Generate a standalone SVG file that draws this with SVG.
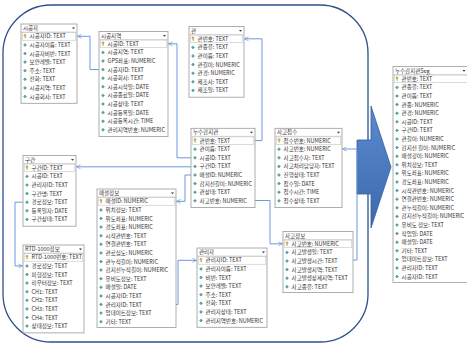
<svg xmlns="http://www.w3.org/2000/svg" xmlns:xlink="http://www.w3.org/1999/xlink" width="467" height="344" viewBox="0 0 467 344">
<style>
text{font-family:"Noto Sans CJK KR","Noto Sans",sans-serif;font-size:5.5px;fill:#333}
.box{fill:#fff;stroke:#9a9a9a;stroke-width:0.8}
.hl{stroke:#c4c4c4;stroke-width:0.6}
.kr{fill:none;stroke:#b8b8b8;stroke-width:0.5}
.dd{fill:#333}
.cn{fill:none;stroke:#6a98dc;stroke-width:1}
</style>
<defs>
<path id="fi" d="M0,-1.5 L1.5,0 L0,1.5 L-1.5,0Z" fill="#46aaa6" stroke="#2c7f7c" stroke-width="0.4"/>
<g id="ky"><circle cx="0" cy="-1" r="1.1" fill="#e0c050" stroke="#9a7d20" stroke-width="0.4"/><path d="M0,0.1 V2 M0,1.3 H0.8" stroke="#9a7d20" stroke-width="0.6"/></g>
<marker id="ah" viewBox="0 0 8 8" refX="7" refY="4" markerWidth="5" markerHeight="5" orient="auto" markerUnits="userSpaceOnUse"><path d="M0.5,0.8 L7,4 L0.5,7.2" fill="none" stroke="#6a98dc" stroke-width="1.1"/></marker>
<linearGradient id="ag" x1="0" y1="0" x2="0" y2="1"><stop offset="0" stop-color="#5b8ad0"/><stop offset="1" stop-color="#3d69ad"/></linearGradient>
</defs>
<rect x="3" y="5" width="365" height="337" rx="48" fill="none" stroke="#2f4f8f" stroke-width="1.3"/>
<path id="bigArrow" d="M357,140 H371 V106 L391,167 L371,228 V194 H357 Z" fill="url(#ag)" stroke="#34609f" stroke-width="0.8"/>
<g id="connectors">
<path class="cn" d="M99,69.6 H90 V36.3 H77.5" marker-end="url(#ah)"/>
<path class="cn" d="M191,157.8 H177 V43.8 H168.5" marker-end="url(#ah)"/>
<path class="cn" d="M255,140.6 H262 V38.8 H244.5" marker-end="url(#ah)"/>
<path class="cn" d="M191,166.8 H76.5" marker-end="url(#ah)"/>
<path class="cn" d="M191,175 H185 V201.3 H176.5" marker-end="url(#ah)"/>
<path class="cn" d="M255,200.5 H270 V243.8 H282.5" marker-end="url(#ah)"/>
<path class="cn" d="M352,260 H357 V149 H342.5" marker-end="url(#ah)"/>
<path class="cn" d="M23,202.2 H15 V265.9 H22.5" marker-end="url(#ah)"/>
<path class="cn" d="M176,304.5 H178 V260.3 H196.5" marker-end="url(#ah)"/>
</g>
<g id="t_sigongja" transform="translate(21,24)">
<rect class="box" width="56" height="79.3"/><line class="hl" x1="0" y1="8" x2="56" y2="8"/><text x="2" y="6">시공자</text><path class="dd" d="M51,3.5 H54 L52.5,5.2Z"/>
<rect class="kr" x="1.2" y="8.6" width="53.6" height="7.6"/>
<use href="#ky" x="4" y="12.3"/><text x="8.6" y="14.3">시공자ID: TEXT</text>
<use href="#fi" x="4" y="20.9"/><text x="8.6" y="22.9">시공자이름: TEXT</text>
<use href="#fi" x="4" y="29.5"/><text x="8.6" y="31.5">시공자비번: TEXT</text>
<use href="#fi" x="4" y="38.1"/><text x="8.6" y="40.1">보안레벨: TEXT</text>
<use href="#fi" x="4" y="46.7"/><text x="8.6" y="48.7">주소: TEXT</text>
<use href="#fi" x="4" y="55.3"/><text x="8.6" y="57.3">전화: TEXT</text>
<use href="#fi" x="4" y="63.9"/><text x="8.6" y="65.9">시공지역: TEXT</text>
<use href="#fi" x="4" y="72.5"/><text x="8.6" y="74.5">시공회사: TEXT</text>
</g>
<g id="t_sigongjiyeok" transform="translate(99,31.5)">
<rect class="box" width="69" height="105.1"/><line class="hl" x1="0" y1="8" x2="69" y2="8"/><text x="2" y="6">시공지역</text><path class="dd" d="M64,3.5 H67 L65.5,5.2Z"/>
<rect class="kr" x="1.2" y="8.6" width="66.6" height="7.6"/>
<use href="#ky" x="4" y="12.3"/><text x="8.6" y="14.3">시공ID: TEXT</text>
<use href="#fi" x="4" y="20.9"/><text x="8.6" y="22.9">시공지역: TEXT</text>
<use href="#fi" x="4" y="29.5"/><text x="8.6" y="31.5">GPS좌표: NUMERIC</text>
<use href="#fi" x="4" y="38.1"/><text x="8.6" y="40.1">시공자ID: TEXT</text>
<use href="#fi" x="4" y="46.7"/><text x="8.6" y="48.7">시공회사: TEXT</text>
<use href="#fi" x="4" y="55.3"/><text x="8.6" y="57.3">시공시작일: DATE</text>
<use href="#fi" x="4" y="63.9"/><text x="8.6" y="65.9">시공종료일: DATE</text>
<use href="#fi" x="4" y="72.5"/><text x="8.6" y="74.5">시공상태: TEXT</text>
<use href="#fi" x="4" y="81.1"/><text x="8.6" y="83.1">시공등록일: DATE</text>
<use href="#fi" x="4" y="89.7"/><text x="8.6" y="91.7">시공등록시간: TIME</text>
<use href="#fi" x="4" y="98.3"/><text x="8.6" y="100.3">관리지역번호: NUMERIC</text>
</g>
<g id="t_gwan" transform="translate(189,26.5)">
<rect class="box" width="55" height="70.7"/><line class="hl" x1="0" y1="8" x2="55" y2="8"/><text x="2" y="6">관</text><path class="dd" d="M50,3.5 H53 L51.5,5.2Z"/>
<rect class="kr" x="1.2" y="8.6" width="52.6" height="7.6"/>
<use href="#ky" x="4" y="12.3"/><text x="8.6" y="14.3">관번호: TEXT</text>
<use href="#fi" x="4" y="20.9"/><text x="8.6" y="22.9">관종류: TEXT</text>
<use href="#fi" x="4" y="29.5"/><text x="8.6" y="31.5">관이름: TEXT</text>
<use href="#fi" x="4" y="38.1"/><text x="8.6" y="40.1">관길이: NUMERIC</text>
<use href="#fi" x="4" y="46.7"/><text x="8.6" y="48.7">관경: NUMERIC</text>
<use href="#fi" x="4" y="55.3"/><text x="8.6" y="57.3">제조사: TEXT</text>
<use href="#fi" x="4" y="63.9"/><text x="8.6" y="65.9">제조일: TEXT</text>
</g>
<g id="t_nusu" transform="translate(191,128.3)">
<rect class="box" width="64" height="79.3"/><line class="hl" x1="0" y1="8" x2="64" y2="8"/><text x="2" y="6">누수감지관</text><path class="dd" d="M59,3.5 H62 L60.5,5.2Z"/>
<rect class="kr" x="1.2" y="8.6" width="61.6" height="7.6"/>
<use href="#ky" x="4" y="12.3"/><text x="8.6" y="14.3">관번호: TEXT</text>
<use href="#fi" x="4" y="20.9"/><text x="8.6" y="22.9">관이름: TEXT</text>
<use href="#fi" x="4" y="29.5"/><text x="8.6" y="31.5">시공ID: TEXT</text>
<use href="#fi" x="4" y="38.1"/><text x="8.6" y="40.1">구간ID: TEXT</text>
<use href="#fi" x="4" y="46.7"/><text x="8.6" y="48.7">매설ID: NUMERIC</text>
<use href="#fi" x="4" y="55.3"/><text x="8.6" y="57.3">감지선길이: NUMERIC</text>
<use href="#fi" x="4" y="63.9"/><text x="8.6" y="65.9">관상태: TEXT</text>
<use href="#fi" x="4" y="72.5"/><text x="8.6" y="74.5">사고번호: NUMERIC</text>
</g>
<g id="t_sagojeopsu" transform="translate(275,128.3)">
<rect class="box" width="67" height="79.3"/><line class="hl" x1="0" y1="8" x2="67" y2="8"/><text x="2" y="6">사고접수</text><path class="dd" d="M62,3.5 H65 L63.5,5.2Z"/>
<rect class="kr" x="1.2" y="8.6" width="64.6" height="7.6"/>
<use href="#ky" x="4" y="12.3"/><text x="8.6" y="14.3">접수번호: NUMERIC</text>
<use href="#fi" x="4" y="20.9"/><text x="8.6" y="22.9">사고번호: NUMERIC</text>
<use href="#fi" x="4" y="29.5"/><text x="8.6" y="31.5">사고접수자: TEXT</text>
<use href="#fi" x="4" y="38.1"/><text x="8.6" y="40.1">사고처리담당자: TEXT</text>
<use href="#fi" x="4" y="46.7"/><text x="8.6" y="48.7">진행상태: TEXT</text>
<use href="#fi" x="4" y="55.3"/><text x="8.6" y="57.3">접수일: DATE</text>
<use href="#fi" x="4" y="63.9"/><text x="8.6" y="65.9">접수시간: TIME</text>
<use href="#fi" x="4" y="72.5"/><text x="8.6" y="74.5">접수상태: TEXT</text>
</g>
<g id="t_gugan" transform="translate(23,155.5)">
<rect class="box" width="53" height="70.7"/><line class="hl" x1="0" y1="8" x2="53" y2="8"/><text x="2" y="6">구간</text><path class="dd" d="M48,3.5 H51 L49.5,5.2Z"/>
<rect class="kr" x="1.2" y="8.6" width="50.6" height="7.6"/>
<use href="#ky" x="4" y="12.3"/><text x="8.6" y="14.3">구간ID: TEXT</text>
<use href="#fi" x="4" y="20.9"/><text x="8.6" y="22.9">시공ID: TEXT</text>
<use href="#fi" x="4" y="29.5"/><text x="8.6" y="31.5">관리자ID: TEXT</text>
<use href="#fi" x="4" y="38.1"/><text x="8.6" y="40.1">구간명: TEXT</text>
<use href="#fi" x="4" y="46.7"/><text x="8.6" y="48.7">경로정보: TEXT</text>
<use href="#fi" x="4" y="55.3"/><text x="8.6" y="57.3">등록일자: DATE</text>
<use href="#fi" x="4" y="63.9"/><text x="8.6" y="65.9">구간상태: TEXT</text>
</g>
<g id="t_rtd" transform="translate(23,245)">
<rect class="box" width="61" height="87.9"/><line class="hl" x1="0" y1="8" x2="61" y2="8"/><text x="2" y="6">RTD-1000정보</text><path class="dd" d="M56,3.5 H59 L57.5,5.2Z"/>
<rect class="kr" x="1.2" y="8.6" width="58.6" height="7.6"/>
<use href="#ky" x="4" y="12.3"/><text x="8.6" y="14.3">RTD-1000번호: TEXT</text>
<use href="#fi" x="4" y="20.9"/><text x="8.6" y="22.9">경로정보: TEXT</text>
<use href="#fi" x="4" y="29.5"/><text x="8.6" y="31.5">파형정보: TEXT</text>
<use href="#fi" x="4" y="38.1"/><text x="8.6" y="40.1">라우터정보: TEXT</text>
<use href="#fi" x="4" y="46.7"/><text x="8.6" y="48.7">CH1: TEXT</text>
<use href="#fi" x="4" y="55.3"/><text x="8.6" y="57.3">CH2: TEXT</text>
<use href="#fi" x="4" y="63.9"/><text x="8.6" y="65.9">CH3: TEXT</text>
<use href="#fi" x="4" y="72.5"/><text x="8.6" y="74.5">CH4: TEXT</text>
<use href="#fi" x="4" y="81.1"/><text x="8.6" y="83.1">상태정보: TEXT</text>
</g>
<g id="t_maeseol" transform="translate(97,189)">
<rect class="box" width="79" height="138.5"/><line class="hl" x1="0" y1="8" x2="79" y2="8"/><text x="2" y="6">매설정보</text><path class="dd" d="M74,3.5 H77 L75.5,5.2Z"/>
<rect class="kr" x="1.2" y="8.6" width="76.6" height="7.6"/>
<use href="#ky" x="4" y="12.3"/><text x="8.6" y="14.3">매설ID: NUMERIC</text>
<use href="#fi" x="4" y="20.9"/><text x="8.6" y="22.9">위치정보: TEXT</text>
<use href="#fi" x="4" y="29.5"/><text x="8.6" y="31.5">위도좌표: NUMERIC</text>
<use href="#fi" x="4" y="38.1"/><text x="8.6" y="40.1">경도좌표: NUMERIC</text>
<use href="#fi" x="4" y="46.7"/><text x="8.6" y="48.7">시작관번호: TEXT</text>
<use href="#fi" x="4" y="55.3"/><text x="8.6" y="57.3">연결관번호: TEXT</text>
<use href="#fi" x="4" y="63.9"/><text x="8.6" y="65.9">관로심도: NUMERIC</text>
<use href="#fi" x="4" y="72.5"/><text x="8.6" y="74.5">관누적길이: NUMERIC</text>
<use href="#fi" x="4" y="81.1"/><text x="8.6" y="83.1">감지선누적길이: NUMERIC</text>
<use href="#fi" x="4" y="89.7"/><text x="8.6" y="91.7">유비도정보: TEXT</text>
<use href="#fi" x="4" y="98.3"/><text x="8.6" y="100.3">매설일: DATE</text>
<use href="#fi" x="4" y="106.9"/><text x="8.6" y="108.9">시공자ID: TEXT</text>
<use href="#fi" x="4" y="115.5"/><text x="8.6" y="117.5">관리자ID: TEXT</text>
<use href="#fi" x="4" y="124.1"/><text x="8.6" y="126.1">업데이트정보: TEXT</text>
<use href="#fi" x="4" y="132.7"/><text x="8.6" y="134.7">기타: TEXT</text>
</g>
<g id="t_gwanrija" transform="translate(197,248)">
<rect class="box" width="70" height="79.3"/><line class="hl" x1="0" y1="8" x2="70" y2="8"/><text x="2" y="6">관리자</text><path class="dd" d="M65,3.5 H68 L66.5,5.2Z"/>
<rect class="kr" x="1.2" y="8.6" width="67.6" height="7.6"/>
<use href="#ky" x="4" y="12.3"/><text x="8.6" y="14.3">관리자ID: TEXT</text>
<use href="#fi" x="4" y="20.9"/><text x="8.6" y="22.9">관리자이름: TEXT</text>
<use href="#fi" x="4" y="29.5"/><text x="8.6" y="31.5">비번: TEXT</text>
<use href="#fi" x="4" y="38.1"/><text x="8.6" y="40.1">보안레벨: TEXT</text>
<use href="#fi" x="4" y="46.7"/><text x="8.6" y="48.7">주소: TEXT</text>
<use href="#fi" x="4" y="55.3"/><text x="8.6" y="57.3">전화: TEXT</text>
<use href="#fi" x="4" y="63.9"/><text x="8.6" y="65.9">관리자상태: TEXT</text>
<use href="#fi" x="4" y="72.5"/><text x="8.6" y="74.5">관리지역번호: NUMERIC</text>
</g>
<g id="t_sagojeongbo" transform="translate(283,231.5)">
<rect class="box" width="70" height="61.1"/><line class="hl" x1="0" y1="8" x2="70" y2="8"/><text x="2" y="6">사고정보</text>
<rect class="kr" x="1.2" y="8.6" width="67.6" height="7.6"/>
<use href="#ky" x="4" y="12.3"/><text x="8.6" y="14.3">사고번호: NUMERIC</text>
<use href="#fi" x="4" y="20.9"/><text x="8.6" y="22.9">사고발생일: TEXT</text>
<use href="#fi" x="4" y="29.5"/><text x="8.6" y="31.5">사고발생시간: TEXT</text>
<use href="#fi" x="4" y="38.1"/><text x="8.6" y="40.1">사고발생지역: TEXT</text>
<use href="#fi" x="4" y="46.7"/><text x="8.6" y="48.7">사고발생상세지역: TEXT</text>
<use href="#fi" x="4" y="55.3"/><text x="8.6" y="57.3">사고종류: TEXT</text>
</g>
<g id="t_seg" transform="translate(393,66.5)">
<rect class="box" width="76" height="215.9"/><line class="hl" x1="0" y1="8" x2="76" y2="8"/><text x="2" y="6">누수감지관Seg</text><path class="dd" d="M69.5,3.5 H72.5 L71,5.2Z"/>
<rect class="kr" x="1.2" y="8.6" width="73" height="7.6"/>
<use href="#ky" x="4" y="12.3"/><text x="8.6" y="14.3">관번호: TEXT</text>
<use href="#fi" x="4" y="20.9"/><text x="8.6" y="22.9">관종류: TEXT</text>
<use href="#fi" x="4" y="29.5"/><text x="8.6" y="31.5">관이름: TEXT</text>
<use href="#fi" x="4" y="38.1"/><text x="8.6" y="40.1">관종: NUMERIC</text>
<use href="#fi" x="4" y="46.7"/><text x="8.6" y="48.7">관경: NUMERIC</text>
<use href="#fi" x="4" y="55.3"/><text x="8.6" y="57.3">시공ID: TEXT</text>
<use href="#fi" x="4" y="63.9"/><text x="8.6" y="65.9">구간ID: TEXT</text>
<use href="#fi" x="4" y="72.5"/><text x="8.6" y="74.5">관길이: NUMERIC</text>
<use href="#fi" x="4" y="81.1"/><text x="8.6" y="83.1">감지선 길이: NUMERIC</text>
<use href="#fi" x="4" y="89.7"/><text x="8.6" y="91.7">매설깊이: NUMERIC</text>
<use href="#fi" x="4" y="98.3"/><text x="8.6" y="100.3">위치정보: TEXT</text>
<use href="#fi" x="4" y="106.9"/><text x="8.6" y="108.9">위도좌표: NUMERIC</text>
<use href="#fi" x="4" y="115.5"/><text x="8.6" y="117.5">경도좌표: NUMERIC</text>
<use href="#fi" x="4" y="124.1"/><text x="8.6" y="126.1">시작관번호: NUMERIC</text>
<use href="#fi" x="4" y="132.7"/><text x="8.6" y="134.7">연결관번호: NUMERIC</text>
<use href="#fi" x="4" y="141.3"/><text x="8.6" y="143.3">관누적길이: NUMERIC</text>
<use href="#fi" x="4" y="149.9"/><text x="8.6" y="151.9">감지선누적길이: NUMERIC</text>
<use href="#fi" x="4" y="158.5"/><text x="8.6" y="160.5">유비도 정보: TEXT</text>
<use href="#fi" x="4" y="167.1"/><text x="8.6" y="169.1">작업일: DATE</text>
<use href="#fi" x="4" y="175.7"/><text x="8.6" y="177.7">매설일: DATE</text>
<use href="#fi" x="4" y="184.3"/><text x="8.6" y="186.3">기타: TEXT</text>
<use href="#fi" x="4" y="192.9"/><text x="8.6" y="194.9">업데이트정보: TEXT</text>
<use href="#fi" x="4" y="201.5"/><text x="8.6" y="203.5">관리자ID: TEXT</text>
<use href="#fi" x="4" y="210.1"/><text x="8.6" y="212.1">시공자ID: TEXT</text>
</g>
</svg>
